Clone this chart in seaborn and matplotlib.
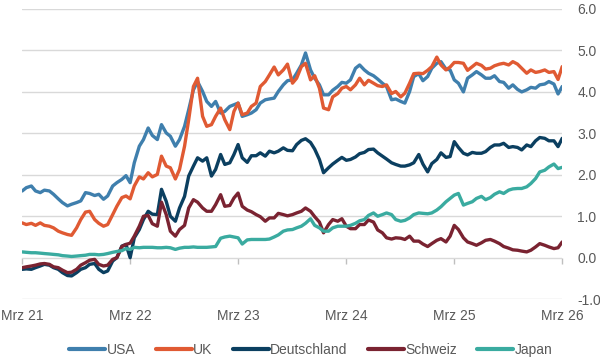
import matplotlib
matplotlib.use("Agg")
import matplotlib.pyplot as plt
import numpy as np
import pandas as pd
import seaborn as sns
from matplotlib.lines import Line2D

# semi-monthly observations, Mar 2021 .. Mar 2026
dates = pd.date_range("2021-03-01", periods=121, freq="SMS")

usa = [1.61, 1.69, 1.73, 1.61, 1.57, 1.63, 1.61, 1.53, 1.42, 1.33, 1.25, 1.29, 1.33, 1.37, 1.57, 1.55,
       1.50, 1.53, 1.41, 1.49, 1.73, 1.81, 1.89, 1.98, 1.81, 2.29, 2.69, 2.85, 3.13, 2.95,
       2.85, 3.21, 3.01, 2.93, 2.69, 2.85, 3.17, 3.57, 4.05, 4.25, 4.01, 3.77, 3.65, 3.77, 3.49, 3.53,
       3.65, 3.69, 3.73, 3.41, 3.45, 3.49, 3.57, 3.73, 3.81, 3.83, 3.85, 4.01, 4.17, 4.27,
       4.29, 4.45, 4.65, 4.94, 4.53, 4.33, 4.17, 3.93, 3.93, 4.04, 4.13, 4.23, 4.21, 4.29, 4.57, 4.65,
       4.53, 4.45, 4.39, 4.31, 4.21, 4.13, 3.81, 3.83, 3.77, 3.73, 4.01, 4.37, 4.44, 4.27,
       4.37, 4.57, 4.69, 4.73, 4.55, 4.53, 4.29, 4.21, 4.00, 4.33, 4.41, 4.49, 4.41, 4.33, 4.33, 4.39,
       4.25, 4.23, 4.09, 4.17, 4.06, 4.00, 4.05, 4.11, 4.09, 4.17, 4.19, 4.25, 4.19, 3.95, 4.13]

uk = [0.84, 0.80, 0.83, 0.78, 0.84, 0.78, 0.76, 0.72, 0.64, 0.60, 0.56, 0.54, 0.72, 0.92, 1.10, 1.12,
      0.92, 0.83, 0.76, 0.80, 1.04, 1.24, 1.45, 1.49, 1.42, 1.73, 1.95, 1.90, 2.05, 1.95,
      2.01, 2.45, 2.21, 2.17, 1.90, 2.13, 2.69, 3.33, 4.13, 4.33, 3.41, 3.17, 3.21, 3.41, 3.61, 3.33,
      3.09, 3.53, 3.73, 3.45, 3.49, 3.65, 3.73, 4.13, 4.25, 4.41, 4.60, 4.41, 4.53, 4.67,
      4.21, 4.33, 4.61, 4.69, 4.29, 4.39, 4.09, 3.61, 3.57, 3.88, 3.96, 4.09, 4.13, 4.05, 4.17, 4.33,
      4.17, 4.28, 4.21, 4.15, 4.13, 4.17, 3.96, 4.01, 3.88, 3.97, 4.21, 4.44, 4.45, 4.44,
      4.52, 4.61, 4.84, 4.65, 4.53, 4.60, 4.71, 4.71, 4.69, 4.52, 4.61, 4.69, 4.64, 4.55, 4.57, 4.63,
      4.67, 4.69, 4.65, 4.73, 4.67, 4.57, 4.45, 4.53, 4.47, 4.49, 4.53, 4.47, 4.49, 4.30, 4.61]

deutschland = [-0.28, -0.27, -0.28, -0.24, -0.20, -0.16, -0.18, -0.24, -0.28, -0.36, -0.43, -0.44, -0.36, -0.28, -0.24, -0.16,
               -0.14, -0.28, -0.36, -0.32, -0.08, 0.00, 0.28, 0.32, 0.00, 0.48, 0.68, 0.92, 1.12, 1.05,
               1.04, 1.65, 1.36, 1.00, 0.88, 1.20, 1.48, 1.97, 2.21, 2.41, 2.33, 2.41, 1.97, 2.13, 2.49, 2.25,
               2.29, 2.49, 2.73, 2.41, 2.30, 2.46, 2.46, 2.53, 2.45, 2.57, 2.53, 2.57, 2.65, 2.59,
               2.58, 2.73, 2.83, 2.87, 2.78, 2.62, 2.37, 2.05, 2.17, 2.26, 2.35, 2.42, 2.35, 2.37, 2.43, 2.51,
               2.54, 2.61, 2.62, 2.53, 2.45, 2.38, 2.29, 2.25, 2.21, 2.21, 2.24, 2.29, 2.49, 2.26,
               2.07, 2.27, 2.37, 2.53, 2.42, 2.44, 2.80, 2.66, 2.52, 2.48, 2.54, 2.52, 2.52, 2.56, 2.66, 2.72,
               2.72, 2.76, 2.66, 2.68, 2.66, 2.60, 2.72, 2.68, 2.82, 2.90, 2.88, 2.82, 2.82, 2.68, 2.88]

schweiz = [-0.24, -0.22, -0.20, -0.18, -0.15, -0.14, -0.16, -0.22, -0.24, -0.30, -0.36, -0.35, -0.28, -0.18, -0.12, -0.06,
           -0.04, -0.16, -0.20, -0.18, -0.04, 0.00, 0.27, 0.32, 0.35, 0.52, 0.76, 1.00, 1.02, 0.82,
           0.76, 1.34, 1.04, 0.64, 0.52, 0.68, 0.78, 1.20, 1.40, 1.34, 1.20, 1.12, 1.12, 1.28, 1.52, 1.24,
           1.26, 1.44, 1.56, 1.24, 1.15, 1.11, 1.04, 0.99, 0.88, 0.96, 0.96, 1.07, 1.04, 1.01,
           1.04, 1.08, 1.12, 1.20, 1.12, 0.99, 0.86, 0.60, 0.80, 0.92, 0.88, 0.94, 0.76, 0.70, 0.70, 0.80,
           0.80, 0.91, 0.86, 0.67, 0.60, 0.48, 0.45, 0.48, 0.47, 0.44, 0.52, 0.40, 0.40, 0.33,
           0.27, 0.34, 0.42, 0.46, 0.38, 0.52, 0.78, 0.68, 0.48, 0.38, 0.34, 0.30, 0.36, 0.42, 0.44, 0.40,
           0.34, 0.27, 0.23, 0.19, 0.18, 0.16, 0.14, 0.18, 0.26, 0.34, 0.30, 0.26, 0.22, 0.24, 0.38]

japan = [0.14, 0.13, 0.12, 0.12, 0.11, 0.10, 0.09, 0.08, 0.07, 0.05, 0.04, 0.03, 0.04, 0.05, 0.06, 0.08,
         0.08, 0.07, 0.08, 0.10, 0.13, 0.15, 0.17, 0.22, 0.20, 0.25, 0.24, 0.25, 0.25, 0.25,
         0.24, 0.24, 0.25, 0.24, 0.20, 0.23, 0.25, 0.25, 0.26, 0.25, 0.25, 0.25, 0.26, 0.27, 0.47, 0.50,
         0.52, 0.50, 0.48, 0.33, 0.43, 0.44, 0.44, 0.44, 0.44, 0.45, 0.50, 0.55, 0.64, 0.67,
         0.68, 0.72, 0.76, 0.83, 0.94, 0.78, 0.72, 0.64, 0.64, 0.72, 0.76, 0.76, 0.76, 0.78, 0.83, 0.89,
         0.92, 1.02, 1.08, 1.00, 1.04, 1.08, 1.04, 0.92, 0.88, 0.90, 0.96, 1.04, 1.08, 1.07,
         1.06, 1.08, 1.15, 1.23, 1.35, 1.43, 1.51, 1.55, 1.27, 1.31, 1.35, 1.43, 1.48, 1.40, 1.45, 1.53,
         1.59, 1.55, 1.63, 1.66, 1.67, 1.67, 1.71, 1.79, 1.91, 2.07, 2.11, 2.19, 2.26, 2.15, 2.18]

series_names = ["USA", "UK", "Deutschland", "Schweiz", "Japan"]
colors = ["#3f7fad", "#e05a33", "#0b3f60", "#7a2331", "#3aaba0"]
tick_labels = ["Mrz 21", "Mrz 22", "Mrz 23", "Mrz 24", "Mrz 25", "Mrz 26"]
tick_dates = pd.to_datetime(["2021-03-01", "2022-03-01", "2023-03-01", "2024-03-01",
                             "2025-03-01", "2026-03-01"])
y_ticks = [-1.0, 0.0, 1.0, 2.0, 3.0, 4.0, 5.0, 6.0]

df = pd.DataFrame({"Datum": dates, "USA": usa, "UK": uk, "Deutschland": deutschland,
                   "Schweiz": schweiz, "Japan": japan})
long = df.melt(id_vars="Datum", var_name="Land", value_name="Rendite")

sns.set_theme(style="white")
plt.rcParams["font.family"] = ["Liberation Sans", "DejaVu Sans"]

fig = plt.figure(figsize=(6, 3.6), dpi=100)
ax = fig.add_axes([0.037, 0.169, 0.900, 0.806])

grid_c = "#d9d9d9"
text_c = "#595959"

sns.lineplot(data=long, x="Datum", y="Rendite", hue="Land", hue_order=series_names,
             palette=colors, linewidth=2.4, ax=ax, legend=False)

ax.set_ylim(-1, 6)
ax.set_xlim(tick_dates[0], tick_dates[-1])
ax.set_yticks(y_ticks)
ax.set_yticklabels([f"{v:.1f}" for v in y_ticks])
ax.yaxis.tick_right()
ax.tick_params(axis="y", length=0, pad=11, labelsize=10, labelcolor=text_c)
ax.grid(axis="y", color=grid_c, linewidth=1.0)
ax.set_axisbelow(True)
for s in ax.spines.values():
    s.set_visible(False)

ax.set_xticks(tick_dates)
ax.set_xticklabels(tick_labels)
ax.tick_params(axis="x", length=0, pad=7, labelsize=10, labelcolor=text_c)
ax.set_xlabel("")
ax.set_ylabel("")

# small tick marks on the zero line
sec = ax.secondary_xaxis(1 / 7)
sec.set_xticks(tick_dates)
sec.set_xticklabels([])
sec.tick_params(axis="x", direction="out", length=4, color="#bfbfbf", width=1)
sec.spines["bottom"].set_visible(False)
sec.spines["top"].set_visible(False)

handles = [Line2D([0], [0], color=c, lw=3) for c in colors]
fig.legend(handles, series_names, loc="center", bbox_to_anchor=(0.518, 0.028), ncol=5,
           frameon=False, fontsize=10, handlelength=2.6, handletextpad=0.1,
           columnspacing=1.45, labelcolor=text_c)

fig.savefig("out.png", dpi=100, facecolor="white")
